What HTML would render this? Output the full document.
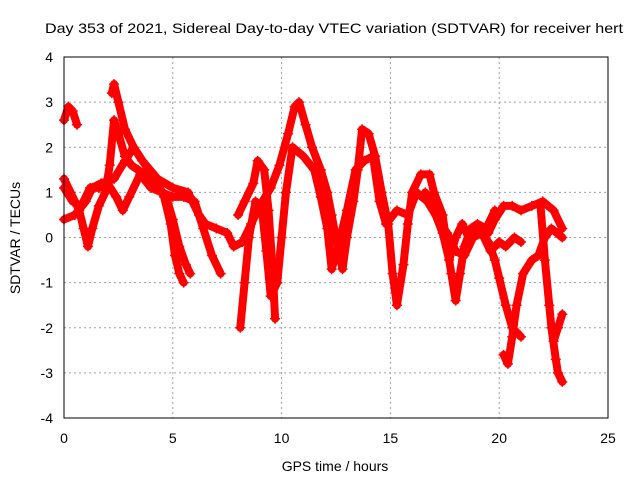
<!DOCTYPE html>
<html><head><meta charset="utf-8"><style>
body{margin:0;background:#fff;}
svg{display:block;font-family:"Liberation Sans",sans-serif;}
</style></head><body>
<svg id="chart" width="640" height="480">
<text x="45" y="33" font-size="14" textLength="578" lengthAdjust="spacingAndGlyphs">Day 353 of 2021, Sidereal Day-to-day VTEC variation (SDTVAR) for receiver hert</text>
<text x="335" y="471" font-size="14" text-anchor="middle">GPS time / hours</text>
<text transform="translate(20,238) rotate(-90)" font-size="14" text-anchor="middle">SDTVAR / TECUs</text>
<g id="grid"></g><g id="marks"></g>
<rect x="64" y="57" width="544" height="361" fill="none" stroke="#000" stroke-width="1"/>
</svg>
<script>
const xTicks=[0,5,10,15,20,25];
const yTicks=[-4,-3,-2,-1,0,1,2,3,4];
const s1=[[0,2.6],[0.2,2.9],[0.4,2.8],[0.6,2.5]];
const s2=[[0,1.3],[0.3,1.0],[0.7,0.6],[0.9,0.2],[1.1,-0.2],[1.3,0.2],[1.6,0.7],[1.9,1.0],[2.1,1.6],[2.3,2.6],[2.5,2.3],[2.8,1.8],[3.1,1.6],[3.4,1.5],[3.7,1.4],[4.2,1.2],[4.7,0.9],[5.0,0.4],[5.3,-0.2],[5.6,-0.6],[5.8,-0.8]];
const s3=[[0,0.4],[0.5,0.5],[1.0,0.8],[1.3,1.1],[1.7,1.2],[2.3,1.3],[2.8,1.7],[3.2,2.0],[3.6,1.7],[3.9,1.5],[4.3,1.2],[4.6,0.9],[4.9,0.3],[5.1,-0.4],[5.3,-0.8],[5.5,-1.0]];
const s4=[[2.2,3.2],[2.3,3.4],[2.5,3.0],[2.8,2.4],[3.2,2.0],[3.6,1.7],[4.3,1.3],[5.0,1.1],[5.7,1.0],[6.2,0.5],[6.5,0.3],[7.0,0.2],[7.5,0.1],[7.8,-0.2],[8.2,-0.1],[8.6,0.3],[9.0,0.7],[9.5,1.1],[9.9,1.6],[10.3,2.3],[10.6,2.9],[10.8,3.0],[11.1,2.5],[11.4,2.0],[11.8,1.5],[12.1,1.0],[12.3,0.5],[12.6,-0.3],[12.8,-0.7],[13.0,0.0],[13.3,0.8],[13.5,1.5],[13.7,2.4],[14.0,2.3],[14.3,1.8],[14.6,1.0],[14.9,0.3],[15.1,-0.8],[15.3,-1.5],[15.6,-0.6],[15.8,0.3],[16.0,1.0],[16.4,1.4],[16.8,1.4],[17.0,1.0],[17.4,0.5],[17.6,-0.2],[17.8,-0.8],[18.0,-1.4],[18.2,-0.8],[18.4,-0.2],[18.7,0.2],[19.0,0.3],[19.4,0.2],[19.8,0.6]];
const s5=[[0,1.1],[0.4,0.8],[0.8,0.7],[1.2,1.1],[1.6,1.1],[2.0,1.2],[2.4,0.9],[2.7,0.6],[3.0,0.9],[3.5,1.4],[4.0,1.1],[4.5,1.0],[5.0,0.9],[5.5,0.9],[6.0,0.8],[6.4,0.2],[6.8,-0.4],[7.2,-0.8]];
const s6=[[8.0,0.5],[8.3,0.8],[8.7,1.2],[8.9,1.7],[9.2,1.5],[9.4,0.6],[9.6,-0.8],[9.7,-1.8]];
const s7=[[8.1,-2.0],[8.3,-1.0],[8.5,0.0],[8.8,0.8],[9.1,0.6],[9.3,-0.3],[9.5,-1.3],[9.8,-1.0],[10.0,0.0],[10.2,1.0],[10.5,2.0],[11.0,1.8],[11.5,1.5],[11.8,0.9],[12.1,0.2],[12.3,-0.7],[12.6,-0.2],[13.0,0.6],[13.4,1.5],[13.8,1.7],[14.2,1.8],[14.5,0.8],[14.8,0.3],[15.3,0.6],[15.8,0.5],[16.2,1.0],[16.7,0.8],[17.2,0.4],[17.6,0.1],[18.0,-0.3],[18.4,-0.4],[18.8,0.0],[19.2,0.1],[19.5,-0.1],[19.8,-0.5],[20.0,-0.9],[20.3,-1.5],[20.6,-2.0],[21.0,-2.2]];
const s8=[[16.6,1.0],[17.0,0.6],[17.4,0.1],[17.7,-0.5],[18.0,0.0],[18.3,0.3],[18.6,0.0],[19.0,0.2],[19.5,0.1],[19.8,0.4],[20.2,0.7],[20.6,0.7],[21.0,0.6],[21.5,0.7],[22.0,0.8],[22.5,0.6],[22.9,0.2]];
const s9=[[18.8,0.2],[19.2,0.1],[19.6,-0.3],[20.0,-0.1],[20.3,-0.2],[20.7,0.0],[21.0,-0.1]];
const s10=[[20.2,-2.6],[20.4,-2.8],[20.6,-2.2],[20.8,-1.5],[21.1,-0.8],[21.5,-0.5],[21.8,-0.4],[22.1,0.0],[22.4,0.2],[22.9,0.0]];
const s11=[[21.9,0.7],[22.1,-0.5],[22.3,-1.5],[22.4,-2.0],[22.6,-2.7],[22.7,-3.0],[22.9,-3.2]];
const s12=[[22.5,-2.3],[22.7,-2.0],[22.9,-1.7]];
const seriesList=[s1,s2,s3,s4,s5,s6,s7,s8,s9,s10,s11,s12];
const X0=64,X1=608,Y0=418,Y1=57;
const xs=t=>X0+(t-0)/(25-0)*(X1-X0);
const ys=v=>Y0-(v+4)/8*(Y0-Y1);
const NS="http://www.w3.org/2000/svg";
const grid=document.getElementById('grid'),marks=document.getElementById('marks'),svg=document.getElementById('chart');
xTicks.forEach(t=>{const x=xs(t);
 if(t>0&&t<25){const l=document.createElementNS(NS,'line');l.setAttribute('x1',x);l.setAttribute('x2',x);l.setAttribute('y1',Y1);l.setAttribute('y2',Y0);l.setAttribute('stroke','#a0a0a0');l.setAttribute('stroke-dasharray','2,3');
 
 grid.appendChild(l);}
 const tx=document.createElementNS(NS,'text');tx.setAttribute('x',x);tx.setAttribute('y',443);tx.setAttribute('font-size','14');tx.setAttribute('text-anchor','middle');tx.textContent=t;
 
 svg.appendChild(tx);});
yTicks.forEach(v=>{const y=ys(v);
 if(v>-4&&v<4){const l=document.createElementNS(NS,'line');l.setAttribute('x1',X0);l.setAttribute('x2',X1);l.setAttribute('y1',y);l.setAttribute('y2',y);l.setAttribute('stroke','#a0a0a0');l.setAttribute('stroke-dasharray','2,3');
 
 grid.appendChild(l);}
 const tx=document.createElementNS(NS,'text');tx.setAttribute('x',53);tx.setAttribute('y',y+5);tx.setAttribute('font-size','14');tx.setAttribute('text-anchor','end');tx.textContent=v;
 
 svg.appendChild(tx);});
seriesList.forEach(s=>{
 const p=document.createElementNS(NS,'polyline');
 p.setAttribute('points',s.map(d=>xs(d[0])+','+ys(d[1])).join(' '));
 p.setAttribute('fill','none');p.setAttribute('stroke','#ff0000');p.setAttribute('stroke-width','8');p.setAttribute('stroke-linejoin','round');p.setAttribute('stroke-linecap','round');
 
 
 marks.appendChild(p);
 s.forEach(d=>{const m=document.createElementNS(NS,'path');const x=xs(d[0]),y=ys(d[1]);
  m.setAttribute('d',`M${x-5},${y}H${x+5}M${x},${y-5}V${y+5}`);m.setAttribute('stroke','#ff0000');m.setAttribute('stroke-width','1.5');
  
  
  marks.appendChild(m);});
});
</script>
</body></html>
